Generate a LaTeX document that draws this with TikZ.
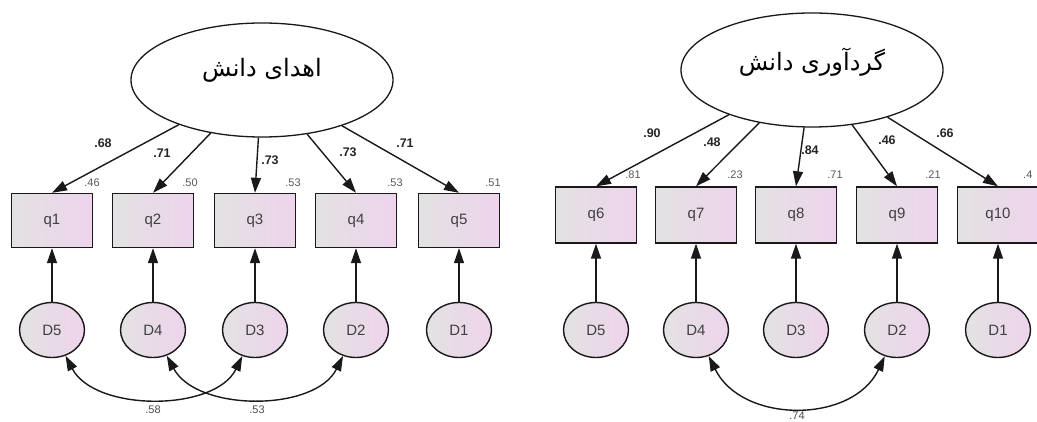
\documentclass[tikz,border=0pt]{standalone}
\usepackage{fontspec}
\setmainfont{Liberation Sans}
\newfontfamily\arabicfont[Script=Arabic]{DejaVu Sans}
\TeXXeTstate=1
\usetikzlibrary{shapes.geometric,arrows.meta}
\definecolor{boxgrey}{RGB}{226,226,226}
\definecolor{boxpink}{RGB}{238,212,236}
\definecolor{linec}{RGB}{25,25,25}
\begin{document}
\begin{tikzpicture}[x=1pt,y=-1pt,
  latent/.style={draw=linec, line width=1.3pt, ellipse, fill=white, minimum width=262pt, minimum height=114pt, inner sep=0pt},
  persian/.style={font=\arabicfont\fontsize{24}{24}\selectfont, text=black},
  obsbox/.style={draw=linec, line width=1.4pt, left color=boxgrey, right color=boxpink, minimum width=81pt, minimum height=54pt, inner sep=0pt, font=\fontsize{15}{15}\selectfont, text=black!75},
  errc/.style={draw=linec, line width=1.4pt, ellipse, left color=boxgrey, right color=boxpink, minimum width=65pt, minimum height=55pt, inner sep=0pt, font=\fontsize{15}{15}\selectfont, text=black!75},
  loadarrow/.style={draw=linec, line width=1.4pt, -{Triangle[length=15pt,width=10pt]}},
  covarrow/.style={draw=linec, line width=1.4pt, {Triangle[length=15pt,width=10pt]}-{Triangle[length=15pt,width=10pt]}},
  loadlbl/.style={font=\bfseries\fontsize{12.5}{12.5}\selectfont, text=black!85},
  rsqlbl/.style={font=\fontsize{11}{11}\selectfont, text=black!65},
  covlbl/.style={font=\fontsize{11}{11}\selectfont, text=black!70},
]
\useasboundingbox[fill=white] (0,0) rectangle (1037,422);

% ---------------- left model ----------------
\node[latent] (LA) at (262,80) {};
\node[persian] (LAt) at (262,70) {\beginR اهدای دانش\endR};

\node[obsbox] (q1) at (52,220.5) {q1};
\node[obsbox] (q2) at (153,220.5) {q2};
\node[obsbox] (q3) at (255,220.5) {q3};
\node[obsbox] (q4) at (356,220.5) {q4};
\node[obsbox] (q5) at (459,220.5) {q5};

\node[errc] (aD5) at (52,330) {D5};
\node[errc] (aD4) at (153,330) {D4};
\node[errc] (aD3) at (255,330) {D3};
\node[errc] (aD2) at (356,330) {D2};
\node[errc] (aD1) at (459,330) {D1};

\draw[loadarrow] (LA) -- (q1.north);
\draw[loadarrow] (LA) -- (q2.north);
\draw[loadarrow] (LA) -- (q3.north);
\draw[loadarrow] (LA) -- (q4.north);
\draw[loadarrow] (LA) -- (q5.north);

\draw[loadarrow] (aD5.north) -- (q1.south);
\draw[loadarrow] (aD4.north) -- (q2.south);
\draw[loadarrow] (aD3.north) -- (q3.south);
\draw[loadarrow] (aD2.north) -- (q4.south);
\draw[loadarrow] (aD1.north) -- (q5.south);

\draw[covarrow] (aD5) .. controls (95,412) and (215,412) .. (aD3);
\draw[covarrow] (aD4) .. controls (197,412) and (315,412) .. (aD2);

\node[loadlbl] (l1) at (103,143) {.68};
\node[loadlbl] (l2) at (162,153) {.71};
\node[loadlbl] (l3) at (270,160) {.73};
\node[loadlbl] (l4) at (348,152) {.73};
\node[loadlbl] (l5) at (405,143) {.71};

\node[rsqlbl] (r1) at (92,183) {.46};
\node[rsqlbl] (r2) at (190,183) {.50};
\node[rsqlbl] (r3) at (293,183) {.53};
\node[rsqlbl] (r4) at (395,183) {.53};
\node[rsqlbl] (r5) at (493,183) {.51};

\node[covlbl] (c1) at (153,410) {.58};
\node[covlbl] (c2) at (257,410) {.53};

% ---------------- right model ----------------
\node[latent] (LB) at (812,70) {};
\node[persian] (LBt) at (812,62) {\beginR گردآوری دانش\endR};

\node[obsbox, minimum height=56pt] (q6) at (596,215) {q6};
\node[obsbox, minimum height=56pt] (q7) at (696,215) {q7};
\node[obsbox, minimum height=56pt] (q8) at (796,215) {q8};
\node[obsbox, minimum height=56pt] (q9) at (897,215) {q9};
\node[obsbox, minimum height=56pt] (q10) at (998,215) {q10};

\node[errc] (bD5) at (596,330) {D5};
\node[errc] (bD4) at (696,330) {D4};
\node[errc] (bD3) at (796,330) {D3};
\node[errc] (bD2) at (897,330) {D2};
\node[errc] (bD1) at (998,330) {D1};

\draw[loadarrow] (LB) -- (q6.north);
\draw[loadarrow] (LB) -- (q7.north);
\draw[loadarrow] (LB) -- (q8.north);
\draw[loadarrow] (LB) -- (q9.north);
\draw[loadarrow] (LB) -- (q10.north);

\draw[loadarrow] (bD5.north) -- (q6.south);
\draw[loadarrow] (bD4.north) -- (q7.south);
\draw[loadarrow] (bD3.north) -- (q8.south);
\draw[loadarrow] (bD2.north) -- (q9.south);
\draw[loadarrow] (bD1.north) -- (q10.south);

\draw[covarrow] (bD4) .. controls (742,424) and (853,424) .. (bD2);

\node[loadlbl] (l6) at (652,133) {.90};
\node[loadlbl] (l7) at (712,142) {.48};
\node[loadlbl] (l8) at (810,150) {.84};
\node[loadlbl] (l9) at (887,140) {.46};
\node[loadlbl] (l10) at (945,133) {.66};

\node[rsqlbl] (r6) at (633,175) {.81};
\node[rsqlbl] (r7) at (735,175) {.23};
\node[rsqlbl] (r8) at (835,175) {.71};
\node[rsqlbl] (r9) at (933,175) {.21};
\node[rsqlbl, anchor=west, inner sep=1pt] (r10) at (1022,175) {.4};

\node[covlbl] (c3) at (797,416) {.74};
\end{tikzpicture}
\end{document}
